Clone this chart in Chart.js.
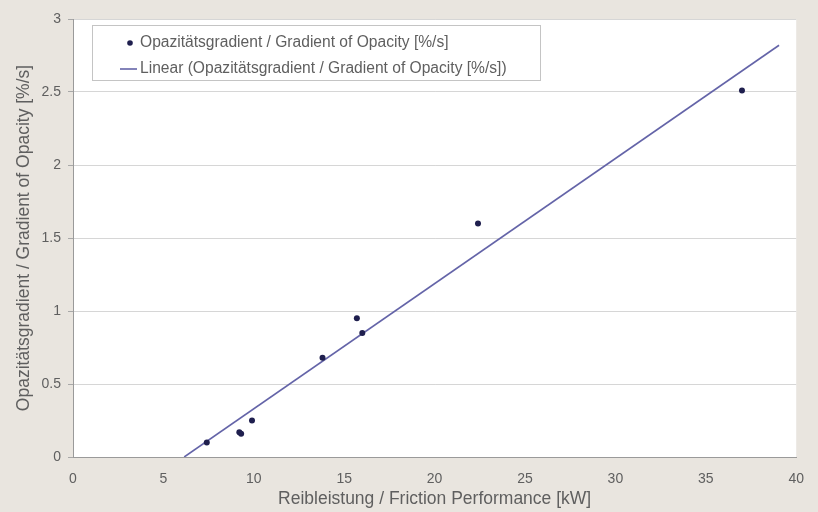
<!DOCTYPE html>
<html>
<head>
<meta charset="utf-8">
<script src="https://cdn.jsdelivr.net/npm/chart.js@4/dist/chart.umd.min.js"></script>
<style>
  html, body { margin: 0; padding: 0; background: #e9e5df; }
  canvas { display: block; }
</style>
</head>
<body>
<canvas id="c" width="818" height="512"></canvas>
<script>
// ---- data ----
const friction = [7.4, 9.2, 9.3, 9.9, 13.8, 15.7, 16.0, 22.4, 37.0];          // kW
const opacityGradient = [0.10, 0.17, 0.16, 0.25, 0.68, 0.95, 0.85, 1.60, 2.51]; // %/s
const trendX = [6.15, 39.05];
const trendY = [0, 2.82];
const xTickLabels = ['0', '5', '10', '15', '20', '25', '30', '35', '40'];
const yTickLabels = ['0', '0.5', '1', '1.5', '2', '2.5', '3'];
const seriesLabel = 'Opazitätsgradient / Gradient of Opacity [%/s]';
const trendLabel = 'Linear (Opazitätsgradient / Gradient of Opacity [%/s])';
const xTitle = 'Reibleistung / Friction Performance [kW]';
const yTitle = 'Opazitätsgradient / Gradient of Opacity [%/s]';

const FONT = "'Liberation Sans', Arial, sans-serif";
const TEXT = '#5f5f5f';
const POINT = '#1f1f4e';
const LINE = '#6464a8';

const bgPlugin = {
  id: 'bg',
  beforeDraw(chart) {
    const { ctx, chartArea: a } = chart;
    ctx.save();
    ctx.fillStyle = '#e9e5df';
    ctx.fillRect(0, 0, chart.width, chart.height);
    ctx.fillStyle = '#ffffff';
    ctx.fillRect(a.left, a.top, a.right - a.left, a.bottom - a.top);
    ctx.restore();
  }
};

const legendPlugin = {
  id: 'boxLegend',
  afterDatasetsDraw(chart) {
    const { ctx, chartArea: a } = chart;
    const x0 = a.left + 19, y0 = a.top + 6, w = 448, h = 55;
    ctx.save();
    ctx.fillStyle = '#ffffff';
    ctx.fillRect(x0, y0, w, h);
    ctx.strokeStyle = '#c4c4c4';
    ctx.lineWidth = 1;
    ctx.strokeRect(x0 + 0.5, y0 + 0.5, w, h);
    ctx.font = '15.6px ' + FONT;
    ctx.textBaseline = 'middle';
    const r1 = y0 + 18, r2 = y0 + 44;
    ctx.beginPath();
    ctx.fillStyle = POINT;
    ctx.arc(x0 + 38, r1, 2.8, 0, Math.PI * 2);
    ctx.fill();
    ctx.strokeStyle = LINE;
    ctx.lineWidth = 1.6;
    ctx.beginPath();
    ctx.moveTo(x0 + 28, r2);
    ctx.lineTo(x0 + 45, r2);
    ctx.stroke();
    ctx.fillStyle = TEXT;
    ctx.fillText(seriesLabel, x0 + 48, r1);
    ctx.fillText(trendLabel, x0 + 48, r2);
    ctx.restore();
  }
};

new Chart(document.getElementById('c'), {
  type: 'scatter',
  data: {
    datasets: [
      {
        label: seriesLabel,
        data: friction.map((x, i) => ({ x, y: opacityGradient[i] })),
        backgroundColor: POINT,
        borderColor: POINT,
        pointRadius: 3,
        pointBorderWidth: 0,
        showLine: false
      },
      {
        label: trendLabel,
        data: trendX.map((x, i) => ({ x, y: trendY[i] })),
        showLine: true,
        borderColor: LINE,
        borderWidth: 1.6,
        pointRadius: 0,
        fill: false
      }
    ]
  },
  options: {
    responsive: false,
    devicePixelRatio: 1,
    animation: false,
    events: [],
    layout: { padding: { top: 19, right: 12, left: 0, bottom: 0 } },
    plugins: { legend: { display: false }, tooltip: { enabled: false } },
    scales: {
      x: {
        type: 'linear',
        min: 0, max: 40,
        afterFit(s) { s.height = 55; },
        afterBuildTicks(s) { s.ticks = xTickLabels.map(v => ({ value: Number(v) })); },
        grid: { display: false, drawTicks: false },
        border: { display: true, color: '#9a9a9a', width: 1 },
        ticks: {
          padding: 14,
          color: TEXT,
          font: { family: FONT, size: 14 },
          maxRotation: 0,
          callback: (v, i) => xTickLabels[i]
        },
        title: {
          display: true, text: xTitle, color: TEXT,
          font: { family: FONT, size: 17.5 },
          padding: { top: 0, bottom: 2 }
        }
      },
      y: {
        type: 'linear',
        min: 0, max: 3,
        afterFit(s) { s.width = 73; },
        afterBuildTicks(s) { s.ticks = yTickLabels.map(v => ({ value: Number(v) })); },
        grid: { color: '#d6d6d6', lineWidth: 1, tickLength: 5, tickColor: '#a8a8a8' },
        border: { display: true, color: '#9a9a9a', width: 1 },
        ticks: {
          padding: 7,
          color: TEXT,
          font: { family: FONT, size: 14 },
          callback: (v, i) => yTickLabels[i]
        },
        title: {
          display: true, text: yTitle, color: TEXT,
          font: { family: FONT, size: 17.5 },
          padding: { top: 14, bottom: 0 }
        }
      }
    }
  },
  plugins: [bgPlugin, legendPlugin]
});
</script>
</body>
</html>
